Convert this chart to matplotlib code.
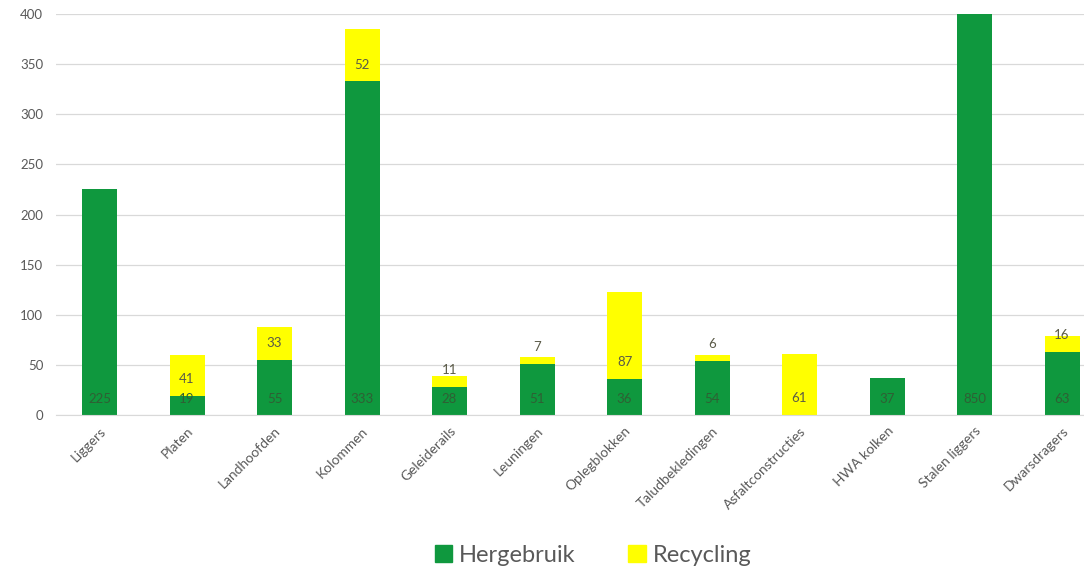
import numpy as np
import matplotlib
matplotlib.use("Agg")
import matplotlib.pyplot as plt
from matplotlib.patches import Patch

plt.rcParams['font.family'] = ['Lato', 'DejaVu Sans']

categories = ['Liggers', 'Platen', 'Landhoofden', 'Kolommen', 'Geleiderails',
              'Leuningen', 'Oplegblokken', 'Taludbekledingen', 'Asfaltconstructies',
              'HWA kolken', 'Stalen liggers', 'Dwarsdragers']
hergebruik = [225, 19, 55, 333, 28, 51, 36, 54, 0, 37, 850, 63]
recycling = [0, 41, 33, 52, 11, 7, 87, 6, 61, 0, 0, 16]
yticks = [0, 50, 100, 150, 200, 250, 300, 350, 400]

green = '#0f983e'
yellow = '#ffff00'
grey = '#595959'

fig = plt.figure(figsize=(10.84, 5.74), dpi=100)
ax = fig.add_axes([55.75 / 1084, 159 / 574, 1050 / 1084, 401 / 574])

x = np.arange(len(categories))
w = 0.4
ax.bar(x, hergebruik, width=w, color=green, zorder=2)
ax.bar(x, recycling, width=w, bottom=hergebruik, color=yellow, zorder=2)

# labels sit just above the base of each segment (Excel "inside base")
for i in range(len(categories)):
    if hergebruik[i] > 0:
        ax.annotate(str(hergebruik[i]), (x[i], 0), xytext=(0, 11.5),
                    textcoords='offset points', ha='center', va='center',
                    fontsize=9.5, color='#2f5f34', zorder=3)
    if recycling[i] > 0:
        ax.annotate(str(recycling[i]), (x[i], hergebruik[i]), xytext=(0, 12),
                    textcoords='offset points', ha='center', va='center',
                    fontsize=9.5, color='#5a5a48', zorder=3)

ax.set_xlim(-0.5, len(categories) - 0.5)
ax.set_ylim(0, 400)
ax.set_yticks(yticks)
ax.set_yticklabels([str(t) for t in yticks], color=grey, fontsize=9.5)
ax.set_xticks(x)
ax.set_xticklabels(categories, rotation=45, ha='right', rotation_mode='anchor',
                   color=grey, fontsize=10)
ax.tick_params(axis='both', length=0)
ax.tick_params(axis='y', pad=9)
ax.tick_params(axis='x', pad=7)
ax.grid(axis='y', color='#d9d9d9', linewidth=0.9, zorder=0)
for s in ['top', 'right', 'left']:
    ax.spines[s].set_visible(False)
ax.spines['bottom'].set_color('#d9d9d9')

handles = [Patch(color=green, label='Hergebruik'), Patch(color=yellow, label='Recycling')]
fig.legend(handles=handles, loc='center', bbox_to_anchor=(593 / 1084, 1 - 555 / 574),
           ncol=2, frameon=False, fontsize=17, labelcolor=grey,
           handlelength=0.75, handleheight=0.75, handletextpad=0.3, columnspacing=2.2)

fig.savefig('out.png', dpi=100)
